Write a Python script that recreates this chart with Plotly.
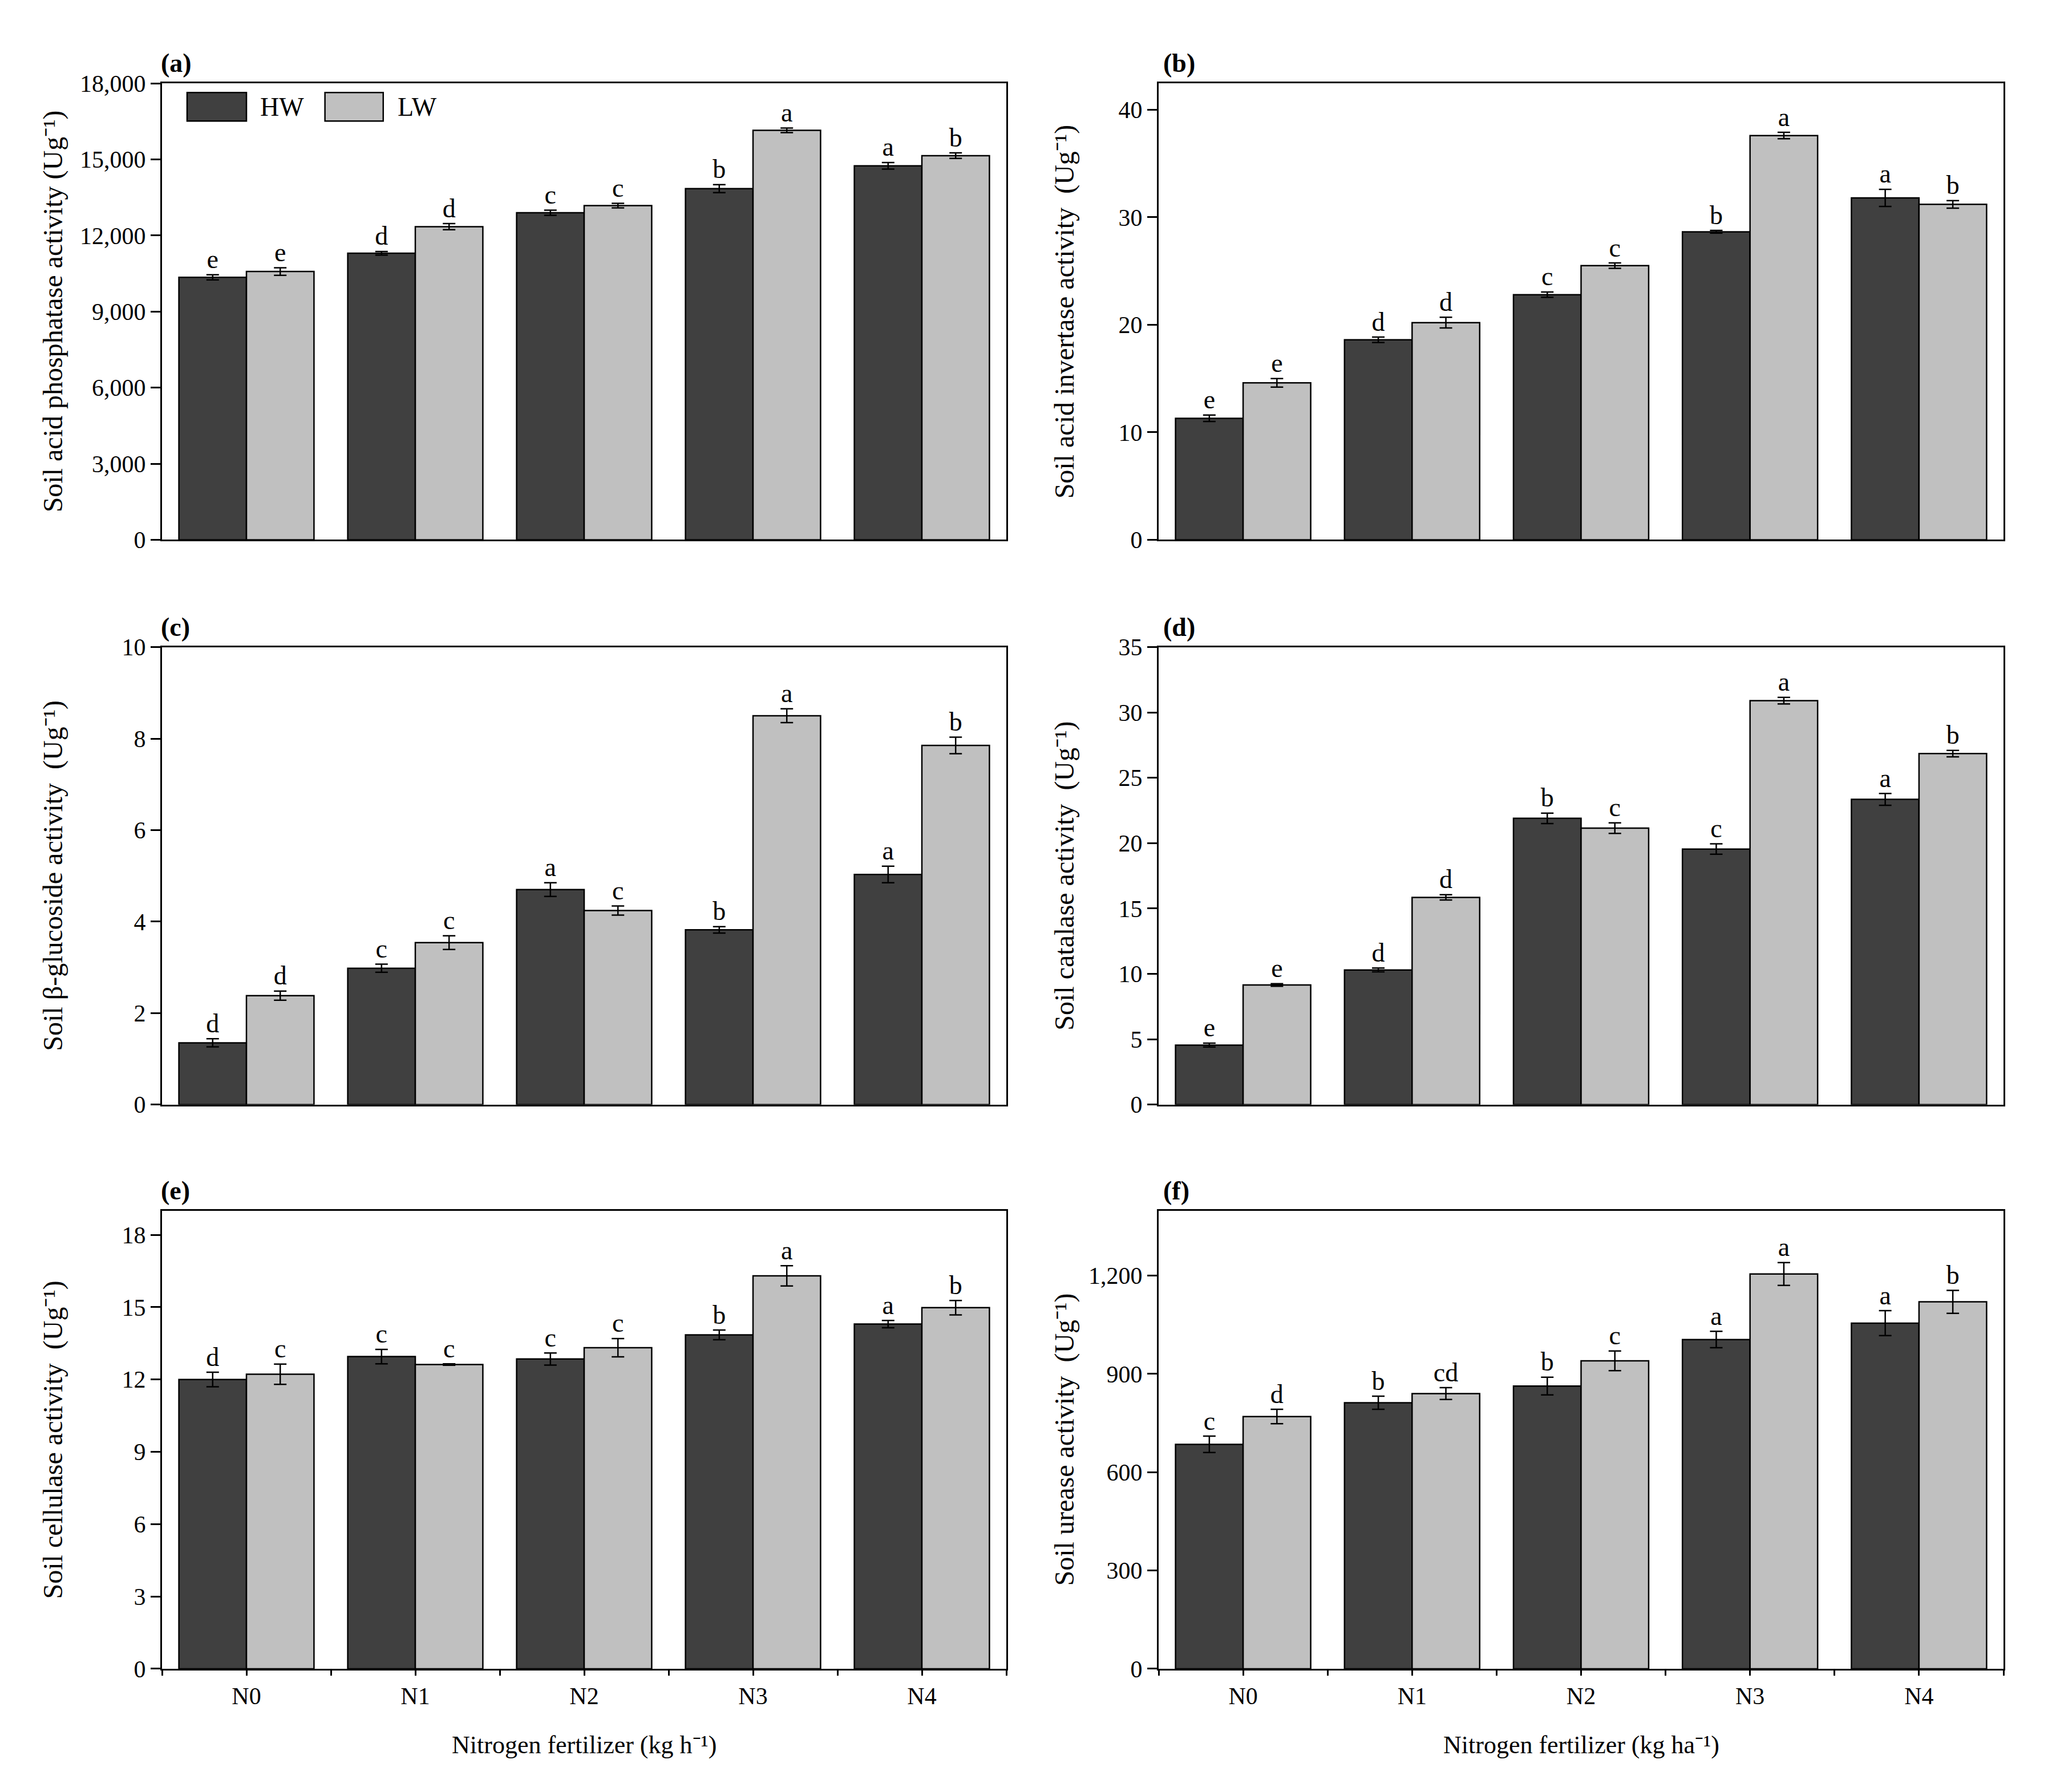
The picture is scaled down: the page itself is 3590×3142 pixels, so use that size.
import plotly.graph_objects as go

categories = ["N0", "N1", "N2", "N3", "N4"]
series_names = ["HW", "LW"]

# (a) acid phosphatase
a_hw = [10350, 11300, 12900, 13850, 14750]
a_lw = [10580, 12350, 13180, 16150, 15150]
a_hw_err = [100, 70, 100, 160, 130]
a_lw_err = [150, 120, 90, 90, 110]
a_hw_let = ["e", "d", "c", "b", "a"]
a_lw_let = ["e", "d", "c", "a", "b"]

# (b) acid invertase
b_hw = [11.3, 18.6, 22.8, 28.65, 31.8]
b_lw = [14.6, 20.2, 25.5, 37.6, 31.2]
b_hw_err = [0.3, 0.25, 0.25, 0.12, 0.8]
b_lw_err = [0.4, 0.5, 0.25, 0.3, 0.35]
b_hw_let = ["e", "d", "c", "b", "a"]
b_lw_let = ["e", "d", "c", "a", "b"]

# (c) beta-glucoside
c_hw = [1.35, 2.98, 4.70, 3.82, 5.03]
c_lw = [2.38, 3.54, 4.24, 8.50, 7.85]
c_hw_err = [0.09, 0.09, 0.15, 0.07, 0.18]
c_lw_err = [0.1, 0.15, 0.1, 0.15, 0.18]
c_hw_let = ["d", "c", "a", "b", "a"]
c_lw_let = ["d", "c", "c", "a", "b"]

# (d) catalase
d_hw = [4.55, 10.3, 21.9, 19.55, 23.35]
d_lw = [9.15, 15.85, 21.15, 30.9, 26.85]
d_hw_err = [0.15, 0.15, 0.4, 0.4, 0.45]
d_lw_err = [0.1, 0.2, 0.4, 0.25, 0.25]
d_hw_let = ["e", "d", "b", "c", "a"]
d_lw_let = ["e", "d", "c", "a", "b"]

# (e) cellulase
e_hw = [12.0, 12.95, 12.85, 13.85, 14.3]
e_lw = [12.22, 12.62, 13.32, 16.3, 14.98]
e_hw_err = [0.3, 0.3, 0.25, 0.2, 0.15]
e_lw_err = [0.42, 0.03, 0.38, 0.42, 0.3]
e_hw_let = ["d", "c", "c", "b", "a"]
e_lw_let = ["c", "c", "c", "a", "b"]

# (f) urease
f_hw = [685, 812, 863, 1005, 1055]
f_lw = [770, 840, 940, 1205, 1120]
f_hw_err = [25, 20, 27, 25, 38]
f_lw_err = [22, 18, 30, 35, 35]
f_hw_let = ["c", "b", "b", "a", "a"]
f_lw_let = ["d", "cd", "c", "a", "b"]

panel_labels = ["(a)", "(b)", "(c)", "(d)", "(e)", "(f)"]
y_titles = [
    "Soil acid phosphatase activity (Ug⁻¹)",
    "Soil acid invertase activity  (Ug⁻¹)",
    "Soil β-glucoside activity  (Ug⁻¹)",
    "Soil catalase activity  (Ug⁻¹)",
    "Soil cellulase activity  (Ug⁻¹)",
    "Soil urease activity  (Ug⁻¹)",
]
x_titles = ["Nitrogen fertilizer (kg h⁻¹)", "Nitrogen fertilizer (kg ha⁻¹)"]
y_ranges = [[0, 18000], [0, 42.45], [0, 10], [0, 35], [0, 19.0], [0, 1398]]
y_dticks = [3000, 10, 2, 5, 3, 300]

panels = [
    (a_hw, a_lw, a_hw_err, a_lw_err, a_hw_let, a_lw_let),
    (b_hw, b_lw, b_hw_err, b_lw_err, b_hw_let, b_lw_let),
    (c_hw, c_lw, c_hw_err, c_lw_err, c_hw_let, c_lw_let),
    (d_hw, d_lw, d_hw_err, d_lw_err, d_hw_let, d_lw_let),
    (e_hw, e_lw, e_hw_err, e_lw_err, e_hw_let, e_lw_let),
    (f_hw, f_lw, f_hw_err, f_lw_err, f_hw_let, f_lw_let),
]

W, H = 3590, 3142
col_px = [(276, 1756), (2023, 3504)]
row_px = [(118, 930), (1121, 1935), (2124, 2939)]
label_x = [272, 2029]
ytitle_x = [85, 1858]

FONT = "Liberation Serif"
DARK = "#404040"
LIGHT = "#c0c0c0"
colors = [DARK, LIGHT]

fig = go.Figure()
layout = dict(width=W, height=H, margin=dict(l=0, r=0, t=0, b=0),
              paper_bgcolor="white", plot_bgcolor="white", showlegend=False,
              font=dict(family=FONT, size=42, color="black"))
annotations = []
shapes = []

xpos = list(range(len(categories)))
for k, (hw, lw, hwe, lwe, hwl, lwl) in enumerate(panels):
    r, c = divmod(k, 2)
    idx = k + 1
    xa = "x" if idx == 1 else f"x{idx}"
    ya = "y" if idx == 1 else f"y{idx}"
    x0, x1 = col_px[c]
    y0, y1 = row_px[r]
    dom_x = [x0 / W, x1 / W]
    dom_y = [1 - y1 / H, 1 - y0 / H]
    for s, (vals, errs, lets) in enumerate([(hw, hwe, hwl), (lw, lwe, lwl)]):
        off = -0.2 if s == 0 else 0.2
        xs = [p + off for p in xpos]
        fig.add_trace(go.Bar(
            x=xs, y=vals, width=0.4, name=series_names[s], xaxis=xa, yaxis=ya,
            marker=dict(color=colors[s], line=dict(color="black", width=2.5)),
            error_y=dict(type="data", array=errs, color="black", thickness=2.5, width=11),
        ))
        fig.add_trace(go.Scatter(
            x=xs, y=[v + e for v, e in zip(vals, errs)], mode="text", text=lets,
            textposition="top center", textfont=dict(family=FONT, size=46, color="black"),
            xaxis=xa, yaxis=ya, hoverinfo="skip", cliponaxis=False,
        ))
    bottom = (r == 2)
    xkey = "xaxis" if idx == 1 else f"xaxis{idx}"
    ykey = "yaxis" if idx == 1 else f"yaxis{idx}"
    xax = dict(
        domain=dom_x, anchor=ya, range=[-0.5, 4.5],
        showline=True, linecolor="black", linewidth=3, mirror=True,
        showgrid=False, zeroline=False,
    )
    if bottom:
        xax.update(
            tickmode="array", tickvals=xpos, ticktext=categories, showticklabels=True,
            ticks="outside", ticklen=9, tickwidth=3, tickcolor="black",
            tickfont=dict(family=FONT, size=42),
            minor=dict(tickmode="array", tickvals=[-0.5, 0.5, 1.5, 2.5, 3.5, 4.5],
                       ticks="outside", ticklen=9, tickwidth=3,
                       tickcolor="black", showgrid=False),
        )
    else:
        xax.update(showticklabels=False, ticks="")
    layout[xkey] = xax
    layout[ykey] = dict(
        domain=dom_y, anchor=xa, range=y_ranges[k], dtick=y_dticks[k], tick0=0,
        tickformat=",d",
        ticks="outside", ticklen=17, tickwidth=3, tickcolor="black",
        showline=True, linecolor="black", linewidth=3, mirror=True,
        showgrid=False, zeroline=False,
        tickfont=dict(family=FONT, size=42),
    )
    # panel label
    annotations.append(dict(text=f"<b>{panel_labels[k]}</b>", x=label_x[c] / W, y=1 - (y0 - 36) / H,
                            xref="paper", yref="paper", xanchor="left", yanchor="middle",
                            showarrow=False, font=dict(family=FONT, size=46)))
    # y title
    annotations.append(dict(text=y_titles[k], x=ytitle_x[c] / W, y=1 - ((y0 + y1) / 2) / H,
                            xref="paper", yref="paper", textangle=-90,
                            xanchor="center", yanchor="middle", showarrow=False,
                            font=dict(family=FONT, size=48)))
    if bottom:
        annotations.append(dict(text=x_titles[c], x=(x0 + x1) / 2 / W, y=1 - 3075 / H,
                                xref="paper", yref="paper", xanchor="center", yanchor="middle",
                                showarrow=False, font=dict(family=FONT, size=44)))

# legend in panel (a)
leg = [(0.0297, 0.100, 0.115, "HW", DARK), (0.193, 0.262, 0.278, "LW", LIGHT)]
for bx0, bx1, tx, name, col in leg:
    shapes.append(dict(type="rect", xref="x domain", yref="y domain", x0=bx0, x1=bx1,
                       y0=0.9175, y1=0.980, fillcolor=col, line=dict(color="black", width=2.5)))
    annotations.append(dict(text=name, xref="x domain", yref="y domain", x=tx, y=0.949,
                            xanchor="left", yanchor="middle", showarrow=False,
                            font=dict(family=FONT, size=46)))

layout["annotations"] = annotations
layout["shapes"] = shapes
fig.update_layout(**layout)
fig.write_html("out.html")
